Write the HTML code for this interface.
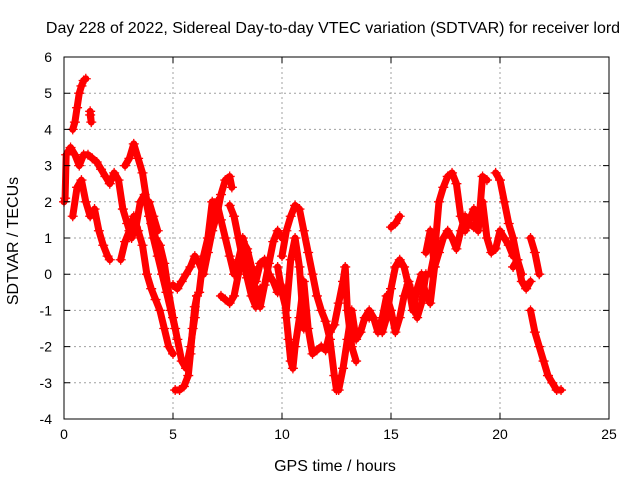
<!DOCTYPE html>
<html><head><meta charset="utf-8"><style>
body{margin:0;background:#fff;}
svg text{font-family:"Liberation Sans",sans-serif;font-size:14px;fill:#000;}
svg text.big{font-size:16px;}
</style></head><body>
<svg width="640" height="480" xmlns="http://www.w3.org/2000/svg">
<rect width="640" height="480" fill="#fff"/>
<g id="grid"></g>
<g id="marks"></g>
<rect x="64" y="57" width="545" height="362" fill="none" stroke="#000"/>
<g id="ticks"></g>
<text class="big" x="333" y="33" text-anchor="middle">Day 228 of 2022, Sidereal Day-to-day VTEC variation (SDTVAR) for receiver lord</text>
<text class="big" x="335" y="471" text-anchor="middle">GPS time / hours</text>
<text class="big" x="18" y="241" text-anchor="middle" transform="rotate(-90 18 241)">SDTVAR / TECUs</text>
</svg>
<script>
const xTicks=[0,5,10,15,20,25];
const yTicks=[-4,-3,-2,-1,0,1,2,3,4,5,6];
const track1=[[0.4,4.0],[0.5,4.2],[0.6,4.6],[0.7,5.0],[0.8,5.2],[0.9,5.35],[1.0,5.4]];
const track2=[[1.2,4.5],[1.25,4.2],[1.2,4.4]];
const track3=[[0.0,2.0],[0.05,2.1],[0.1,3.3],[0.3,3.5],[0.5,3.3],[0.7,3.0],[0.9,3.3],[1.1,3.3],[1.3,3.2],[1.5,3.1],[1.7,2.9],[1.9,2.7],[2.1,2.5],[2.3,2.8],[2.5,2.6],[2.7,1.8],[2.9,1.4],[3.1,1.0],[3.3,1.3],[3.5,2.0],[3.7,2.2],[3.9,1.6],[4.1,1.0],[4.3,0.5],[4.5,0.0],[4.7,-0.5],[4.9,-1.0],[5.1,-1.5]];
const track4=[[0.4,1.6],[0.6,2.4],[0.8,2.6],[1.0,2.0],[1.2,1.6],[1.4,1.8],[1.6,1.2],[1.8,0.8],[2.0,0.5],[2.1,0.4]];
const track5=[[2.8,3.0],[3.0,3.2],[3.2,3.6],[3.4,3.2],[3.6,2.8],[3.8,2.0],[4.0,1.4],[4.2,1.0],[4.4,0.8],[4.6,0.3],[4.8,-0.5],[5.0,-1.2],[5.2,-1.8],[5.4,-2.4],[5.6,-2.6],[5.8,-2.0],[6.0,-1.2],[6.1,-0.6]];
const track6=[[2.6,0.4],[2.8,0.9],[3.0,1.2],[3.2,1.6],[3.4,1.2],[3.6,0.8],[3.8,0.0],[4.0,-0.4],[4.2,-0.7],[4.4,-1.0],[4.6,-1.5],[4.8,-2.0],[5.0,-2.2]];
const track7=[[3.9,2.0],[4.1,1.6],[4.3,1.2]];
const track8=[[5.1,-3.2],[5.3,-3.2],[5.5,-3.1],[5.7,-2.8],[5.8,-2.2],[5.9,-1.5],[6.0,-0.9],[6.1,-0.6]];
const track9=[[5.0,-0.3],[5.2,-0.4],[5.4,-0.2],[5.6,0.0],[5.8,0.2],[6.0,0.5],[6.2,0.3],[6.4,0.0],[6.6,0.6],[6.8,1.2],[7.0,1.6],[7.2,2.2],[7.4,2.6],[7.6,2.7],[7.7,2.4]];
const track10=[[6.2,-0.5],[6.4,0.5],[6.6,1.0],[6.8,2.0],[7.0,2.0],[7.2,1.5],[7.4,1.0],[7.6,0.5],[7.8,0.0],[8.0,0.4],[8.2,0.9],[8.4,0.7],[8.6,0.2],[8.8,-0.5],[9.0,-0.9],[9.2,-0.3],[9.4,0.3],[9.6,0.9],[9.8,1.2],[10.0,1.0]];
const track11=[[7.2,-0.6],[7.4,-0.7],[7.6,-0.8],[7.8,-0.6],[8.0,0.0],[8.2,1.0],[8.4,0.6],[8.6,0.2],[8.8,-0.2],[9.0,0.3],[9.2,0.4],[9.4,0.0],[9.6,-0.2],[9.8,-0.5]];
const track12=[[7.6,1.9],[7.8,1.6],[8.0,1.0],[8.2,0.4],[8.4,-0.1],[8.6,-0.6],[8.8,-0.9],[9.0,-0.4]];
const track13=[[10.0,0.5],[10.2,1.2],[10.4,1.6],[10.6,1.9],[10.8,1.8],[11.0,1.2],[11.2,0.6],[11.4,0.0],[11.6,-0.6],[11.8,-1.0],[12.0,-1.3],[12.2,-1.8],[12.4,-2.8],[12.5,-3.2],[12.6,-3.2],[12.8,-2.6],[13.0,-1.8],[13.2,-1.0],[13.4,-1.8],[13.6,-1.6],[13.8,-1.2],[14.0,-1.2]];
const track14=[[10.1,-0.4],[10.2,-1.2],[10.3,-1.8],[10.4,-2.4],[10.5,-2.6],[10.6,-2.0],[10.8,-1.2],[11.0,-0.2],[11.2,-1.5],[11.4,-2.2],[11.6,-2.1],[11.8,-2.0],[12.0,-2.1],[12.2,-1.6],[12.4,-1.4],[12.6,-0.8],[12.8,-0.2],[12.9,0.2],[13.0,-1.0],[13.2,-2.0],[13.4,-2.4]];
const track15=[[9.8,0.2],[10.0,-0.5],[10.2,-1.0],[10.4,0.4],[10.6,1.0],[10.8,0.2],[11.0,-1.5]];
const track16=[[13.6,-1.6],[13.8,-1.2],[14.0,-1.0],[14.2,-1.2],[14.4,-1.6],[14.6,-1.2],[14.8,-0.6],[15.0,-1.0],[15.2,-1.6],[15.4,-1.2],[15.6,-0.6],[15.8,-0.2],[16.0,-0.6],[16.2,-1.2],[16.4,-0.8],[16.6,0.0]];
const track17=[[14.6,-1.6],[14.8,-1.2],[15.0,-0.4],[15.2,0.2],[15.4,0.4],[15.6,0.2],[15.8,-0.3],[16.0,-1.0],[16.2,-0.4],[16.4,0.0],[16.6,-0.6],[16.8,-0.8],[17.0,0.2]];
const track18=[[15.0,1.3],[15.2,1.4],[15.4,1.6]];
const track19=[[16.6,0.6],[16.8,1.2],[17.0,0.2],[17.2,0.6],[17.4,1.0],[17.6,1.2],[17.8,1.0],[18.0,0.7],[18.2,1.2],[18.4,1.6],[18.6,1.4],[18.8,1.3],[19.0,1.5],[19.2,2.0],[19.4,1.0],[19.6,0.6],[19.8,0.7],[20.0,1.2],[20.2,1.0],[20.4,0.8],[20.6,0.5]];
const track20=[[16.8,0.0],[17.0,0.6],[17.2,2.0],[17.4,2.4],[17.6,2.7],[17.8,2.8],[18.0,2.5],[18.2,1.6],[18.4,1.2],[18.6,1.5],[18.8,1.8],[19.0,1.2],[19.2,2.7],[19.4,2.6]];
const track21=[[19.8,2.8],[20.0,2.6],[20.2,2.0],[20.4,1.4],[20.6,1.0],[20.8,0.4],[21.0,-0.2],[21.2,-0.4],[21.4,-0.2]];
const track22=[[21.4,1.0],[21.6,0.6],[21.8,0.0]];
const track23=[[21.4,-1.0],[21.6,-1.6],[21.8,-2.0],[22.0,-2.4],[22.2,-2.8],[22.4,-3.0],[22.6,-3.2],[22.8,-3.2]];
const track24=[[20.6,0.2],[20.8,0.4],[21.0,0.0]];
const tracks=[track1,track2,track3,track4,track5,track6,track7,track8,track9,track10,track11,track12,track13,track14,track15,track16,track17,track18,track19,track20,track21,track22,track23,track24];

const NS="http://www.w3.org/2000/svg";
const X0=64,X1=609,Y0=419,Y1=57;
function xs(t){return X0+(t-0)/(25-0)*(X1-X0);}
function ys(v){return Y0-(v-(-4))/(6-(-4))*(Y0-Y1);}
const grid=document.getElementById('grid'),ticks=document.getElementById('ticks'),marks=document.getElementById('marks');
function mk(tag,attrs,parent){const e=document.createElementNS(NS,tag);for(const k in attrs)e.setAttribute(k,attrs[k]);parent.appendChild(e);return e;}
xTicks.forEach(t=>{
  const x=xs(t);
  if(t>0&&t<25){const g=mk('line',{x1:x,x2:x,y1:Y1,y2:Y0,stroke:'#a0a0a0','stroke-dasharray':'2,3'},grid);
  
  }
  const tk=mk('path',{d:`M${x},${Y0}v-6M${x},${Y1}v6`,stroke:'#000'},ticks);
  
  
  const l=mk('text',{x:x,y:Y0+20,'text-anchor':'middle'},ticks);l.textContent=t;
  
  
});
yTicks.forEach(v=>{
  const y=ys(v);
  if(v>-4&&v<6){const g=mk('line',{x1:X0,x2:X1,y1:y,y2:y,stroke:'#a0a0a0','stroke-dasharray':'2,3'},grid);
  
  }
  const tk=mk('path',{d:`M${X0},${y}h6M${X1},${y}h-6`,stroke:'#000'},ticks);
  
  
  const l=mk('text',{x:X0-12,y:y+5,'text-anchor':'end'},ticks);l.textContent=v;
  
  
});
tracks.forEach(tr=>{
  const pl=mk('polyline',{points:tr.map(p=>xs(p[0])+','+ys(p[1])).join(' '),fill:'none',stroke:'#f00','stroke-width':7,'stroke-linejoin':'round','stroke-linecap':'round'},marks);
  
  
  tr.forEach(p=>{
    const x=xs(p[0]),y=ys(p[1]);
    const m=mk('path',{d:`M${x-5},${y}h10M${x},${y-5}v10`,stroke:'#f00','stroke-width':1.3},marks);
    
    
  });
});
</script>
</body></html>
